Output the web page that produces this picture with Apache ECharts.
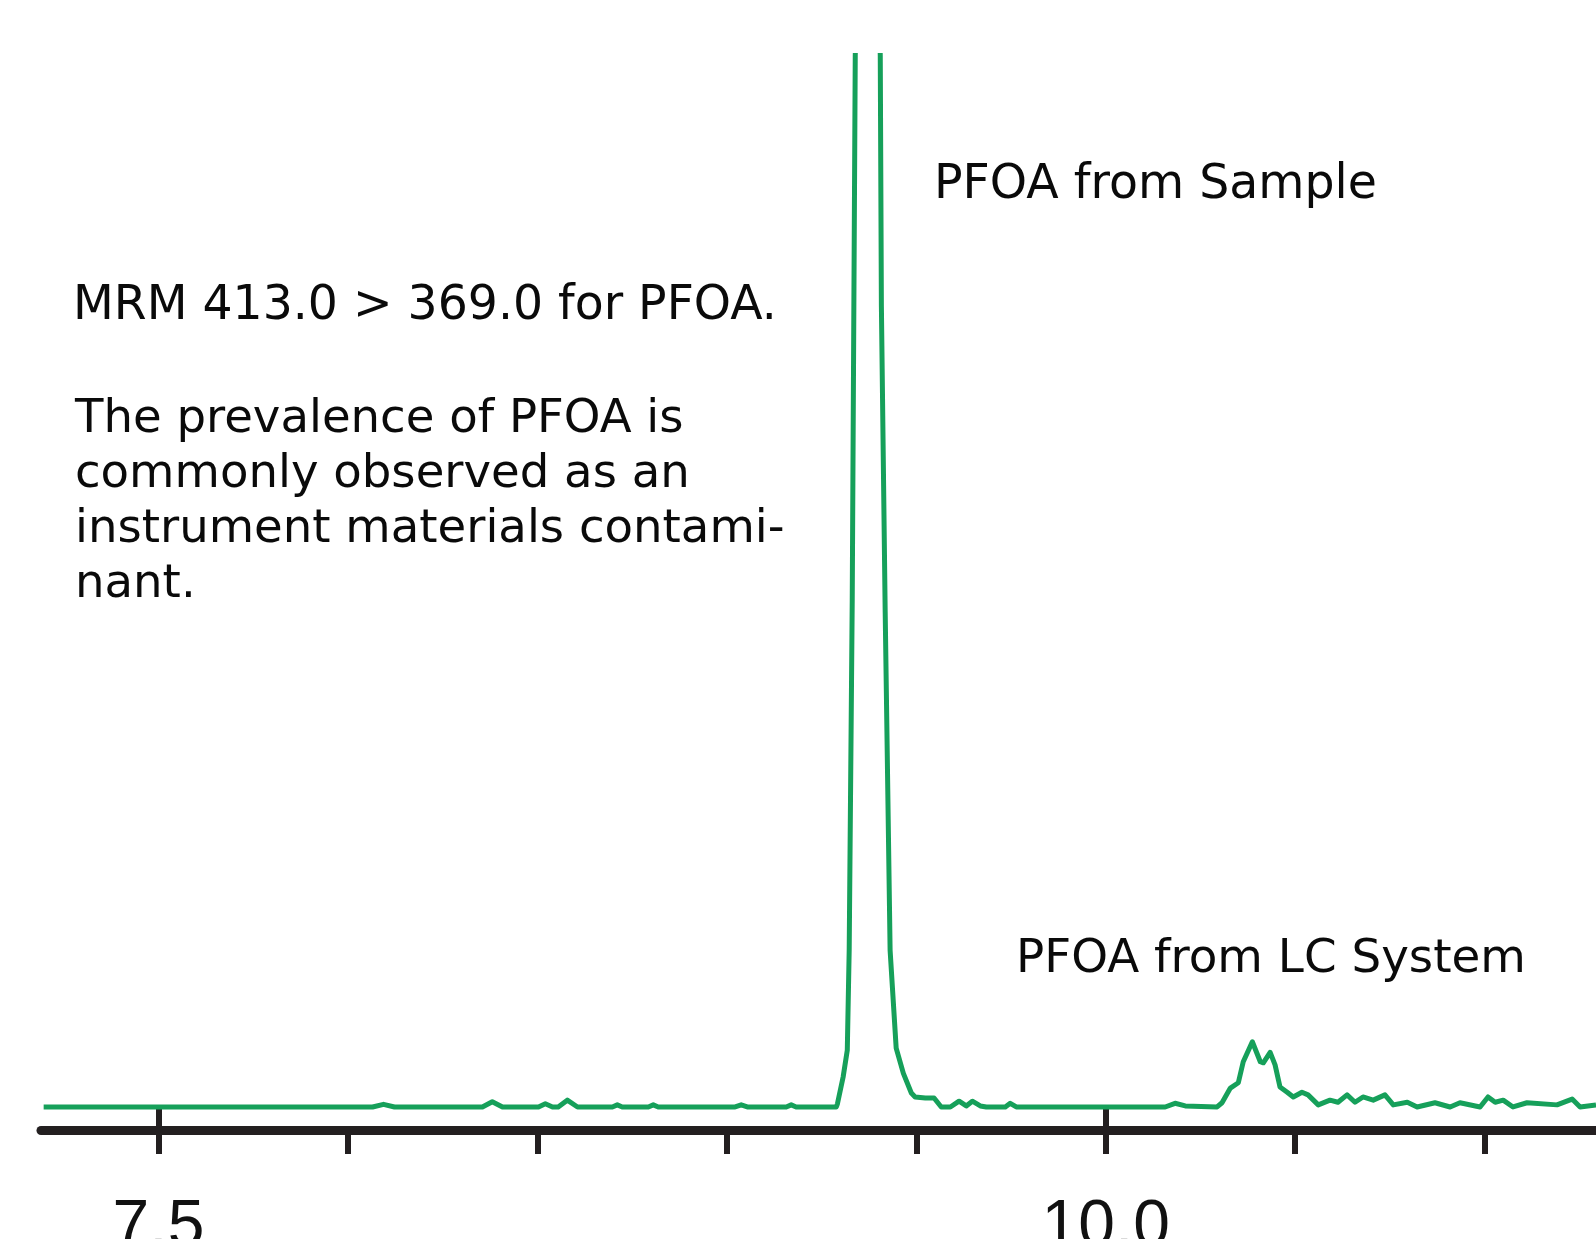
<!DOCTYPE html>
<html>
<head>
<meta charset="utf-8">
<script src="https://cdn.jsdelivr.net/npm/echarts@6/dist/echarts.min.js"></script>
<style>
  html, body { margin: 0; padding: 0; background: #ffffff; }
  #chart { width: 1596px; height: 1239px; }
</style>
</head>
<body>
<div id="chart"></div>
<script>
// Retention time (min) of each trace point
var retentionTimes = [7.197, 8.065, 8.094, 8.123, 8.355, 8.381, 8.408, 8.503, 8.521, 8.540, 8.555, 8.579, 8.606, 8.698, 8.711, 8.724, 8.793, 8.806, 8.819, 9.022, 9.038, 9.054, 9.157, 9.170, 9.183, 9.289, 9.292, 9.307, 9.318, 9.323, 9.331, 9.339, 9.372, 9.405, 9.408, 9.418, 9.431, 9.447, 9.466, 9.487, 9.497, 9.524, 9.547, 9.566, 9.590, 9.613, 9.632, 9.648, 9.669, 9.685, 9.735, 9.748, 9.764, 10.157, 10.183, 10.210, 10.294, 10.307, 10.329, 10.350, 10.363, 10.387, 10.408, 10.416, 10.434, 10.447, 10.460, 10.479, 10.495, 10.518, 10.534, 10.561, 10.592, 10.613, 10.637, 10.658, 10.679, 10.706, 10.737, 10.759, 10.796, 10.822, 10.869, 10.909, 10.935, 10.988, 11.009, 11.028, 11.049, 11.075, 11.112, 11.191, 11.231, 11.252, 11.294];
// Relative intensity (MRM 413.0 > 369.0), off-scale at the sample peak
var intensities = [0, 0, 0.25, 0, 0, 0.5, 0, 0, 0.3, 0, 0, 0.65, 0, 0, 0.2, 0, 0, 0.2, 0, 0, 0.2, 0, 0, 0.2, 0, 0, 0.3, 2.85, 5.4, 14.9, 48.1, 100, 150, 100, 76.1, 47.1, 14.9, 5.6, 3.2, 1.33, 0.95, 0.85, 0.85, 0, 0, 0.55, 0.1, 0.55, 0.1, 0, 0, 0.35, 0, 0, 0.35, 0.1, 0, 0.4, 1.8, 2.3, 4.3, 6.2, 4.3, 4.2, 5.2, 4.0, 1.9, 1.4, 0.95, 1.4, 1.15, 0.2, 0.65, 0.45, 1.15, 0.45, 0.95, 0.65, 1.15, 0.2, 0.45, 0, 0.4, 0, 0.4, 0, 0.95, 0.45, 0.65, 0, 0.4, 0.2, 0.75, 0, 0.2];
var minorTickValues = [7.5, 8.0, 8.5, 9.0, 9.5, 10.0, 10.5, 11.0];
var majorTickValues = [7.5, 10.0];
var annotationMethod = 'MRM 413.0 > 369.0 for PFOA.';
var annotationNote = 'The prevalence of PFOA is\ncommonly observed as an\ninstrument materials contami-\nnant.';
var labelSample = 'PFOA from Sample';
var labelSystem = 'PFOA from LC System';

var traceData = retentionTimes.map(function (t, i) { return [t, intensities[i]]; });

var chart = echarts.init(document.getElementById('chart'), null, { renderer: 'canvas' });
var axisColor = '#231f20';
var textFont = 'DejaVu Sans';
var xMin = 7.19, xMax = 11.294;

chart.setOption({
  backgroundColor: '#ffffff',
  animation: false,
  grid: { left: 41, right: 0, top: 55.5, bottom: 109, containLabel: false, outerBoundsMode: 'none' },
  xAxis: [
    {
      type: 'value', min: xMin, max: xMax, position: 'bottom',
      axisLine: { show: true, onZero: false, lineStyle: { color: axisColor, width: 9 } },
      axisTick: { show: true, customValues: minorTickValues, length: 24, lineStyle: { color: axisColor, width: 6 } },
      axisLabel: { show: false },
      splitLine: { show: false }
    },
    {
      type: 'value', min: xMin, max: xMax, position: 'bottom',
      axisLine: { show: false },
      axisTick: { show: true, customValues: majorTickValues, length: 37, lineStyle: { color: axisColor, width: 6 } },
      axisLabel: {
        show: true, customValues: majorTickValues, margin: 64.5,
        formatter: function (v) { return v.toFixed(1); },
        color: '#111111', fontSize: 66,
        fontFamily: "'Liberation Sans Narrow', 'Liberation Sans', sans-serif"
      },
      splitLine: { show: false }
    }
  ],
  yAxis: { type: 'value', min: -2.19, max: 100, show: false, splitLine: { show: false } },
  series: [{
    type: 'line', xAxisIndex: 0, data: traceData, showSymbol: false, symbol: 'none',
    lineStyle: { color: '#16a05a', width: 5, join: 'round' },
    clip: true
  }],
  graphic: [
    { type: 'text', left: 73, top: 279, style: { text: annotationMethod, fontFamily: textFont, fontSize: 47.3, lineHeight: 55, fill: '#0a0a0a' } },
    { type: 'text', left: 75, top: 392.5, style: { text: annotationNote, fontFamily: textFont, fontSize: 46.6, lineHeight: 55, fill: '#0a0a0a' } },
    { type: 'text', left: 934, top: 158, style: { text: labelSample, fontFamily: textFont, fontSize: 47.4, lineHeight: 55, fill: '#0a0a0a' } },
    { type: 'text', left: 1016, top: 932.5, style: { text: labelSystem, fontFamily: textFont, fontSize: 46.8, lineHeight: 55, fill: '#0a0a0a' } }
  ]
});
</script>
</body>
</html>
